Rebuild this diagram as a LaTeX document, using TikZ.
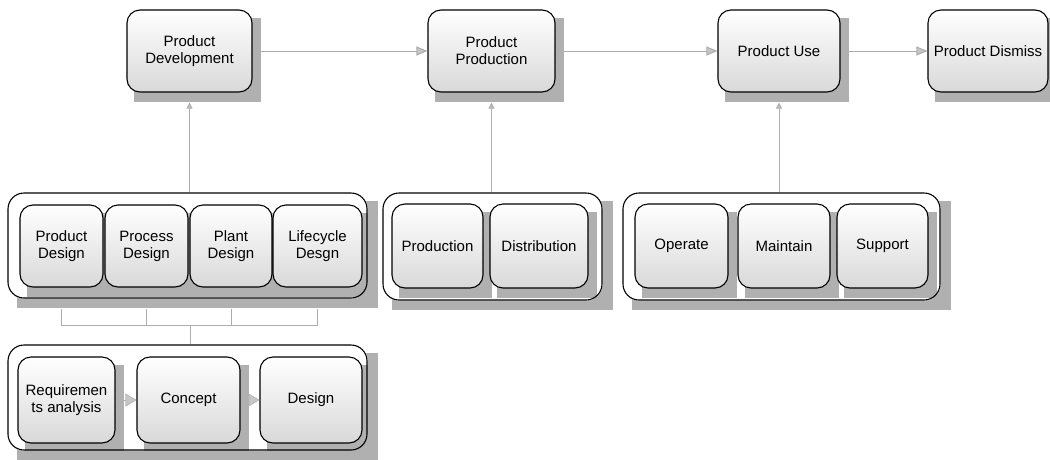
\documentclass[tikz,border=0pt]{standalone}
\usepackage{fontspec}
\setmainfont{Liberation Sans}
\usetikzlibrary{arrows.meta}
\pgfdeclarelayer{ombrecornici}
\pgfdeclarelayer{cornici}
\pgfdeclarelayer{ombre}
\pgfsetlayers{ombrecornici,cornici,ombre,main}

\begin{document}
\begin{tikzpicture}[x=1pt,y=-1pt,
        blocco/.style={draw, line width=1.1pt, rounded corners=13pt, top color=white, bottom color=gray!30, align=center, inner sep=2pt, font=\fontsize{15}{17}\selectfont},
        cornice/.style={draw, line width=1.1pt, rounded corners=16pt, inner sep=0pt},
        ombra/.style={fill=gray!62},
        freccia/.style={draw=gray!65, line width=1pt, -{Triangle[length=11pt,width=9pt,fill=gray!45]}},
        salita/.style={draw=gray!65, line width=1pt, -{Triangle[length=6pt,width=6pt,fill=gray!45]}},
        freccina/.style={draw=gray!60, line width=0.6pt, -{Triangle[length=11pt,width=13pt,fill=gray!45]}},
        linea/.style={draw=gray!65, line width=1pt}]
        \useasboundingbox (0,0) rectangle (1050,459);

        % Fasi del ciclo di vita
        \node[blocco, minimum width=125pt, minimum height=82pt] (svil) at (189.5,51) {Product\\Development};
        \node[blocco, minimum width=127pt, minimum height=82pt] (prod) at (491.5,51) {Product\\Production};
        \node[blocco, minimum width=122pt, minimum height=82pt] (uso) at (779,51) {Product Use};
        \node[blocco, minimum width=120pt, minimum height=82pt] (dism) at (988,51) {Product Dismiss};

        % Cornici dei gruppi
        \node[cornice, minimum width=359pt, minimum height=105pt] (g1) at (187.5,245.5) {};
        \node[cornice, minimum width=359pt, minimum height=105pt] (g2) at (187.5,397.5) {};
        \node[cornice, minimum width=219pt, minimum height=107pt] (g3) at (492.5,246.5) {};
        \node[cornice, minimum width=317pt, minimum height=107pt] (g4) at (781.5,246.5) {};

        % Progettazione
        \node[blocco, minimum width=83pt, minimum height=82pt] (pdes) at (61.5,246) {Product\\Design};
        \node[blocco, minimum width=83pt, minimum height=82pt] (prdes) at (146.5,246) {Process\\Design};
        \node[blocco, minimum width=82pt, minimum height=82pt] (pldes) at (231,246) {Plant\\Design};
        \node[blocco, minimum width=89pt, minimum height=82pt] (lcdes) at (317.5,246) {Lifecycle\\Desgn};

        % Fasi di progetto
        \node[blocco, minimum width=97pt, minimum height=86pt] (req) at (66.5,400) {Requiremen\\ts analysis};
        \node[blocco, minimum width=103pt, minimum height=86pt] (conc) at (188.5,400) {Concept};
        \node[blocco, minimum width=102pt, minimum height=86pt] (des) at (311,400) {Design};

        % Produzione e uso
        \node[blocco, minimum width=91pt, minimum height=84pt] (produz) at (437.5,246) {Production};
        \node[blocco, minimum width=98pt, minimum height=84pt] (distr) at (539,246) {Distribution};
        \node[blocco, minimum width=93pt, minimum height=84pt] (oper) at (681.5,246) {Operate};
        \node[blocco, minimum width=92pt, minimum height=84pt] (mant) at (784,246) {Maintain};
        \node[blocco, minimum width=91pt, minimum height=84pt] (supp) at (882.5,246) {Support};

        % Ombre
        \begin{pgfonlayer}{ombre}
            \foreach \n in {svil,prod,uso,dism,pdes,prdes,pldes,lcdes,req,conc,des,produz,distr,oper,mant,supp}
                \fill[ombra] ([xshift=8pt,yshift=-9pt]\n.south west) rectangle ([xshift=8pt,yshift=-9pt]\n.north east);
        \end{pgfonlayer}
        \begin{pgfonlayer}{cornici}
            \foreach \g in {g1,g2,g3,g4}
                \fill[white, rounded corners=16pt] (\g.south west) rectangle (\g.north east);
        \end{pgfonlayer}
        \begin{pgfonlayer}{ombrecornici}
            \foreach \g in {g1,g2,g3,g4}
                \fill[ombra] ([xshift=10pt,yshift=-9pt]\g.south west) rectangle ([xshift=10pt,yshift=-9pt]\g.north east);
        \end{pgfonlayer}

        % Frecce tra le fasi
        \draw[freccia] ([xshift=8pt]svil.east) -- (prod.west);
        \draw[freccia] ([xshift=8pt]prod.east) -- (uso.west);
        \draw[freccia] ([xshift=8pt]uso.east) -- (dism.west);

        % Collegamenti verso l'alto
        \draw[salita] (svil.south |- g1.north) -- ([yshift=-10pt]svil.south);
        \draw[salita] (prod.south |- g3.north) -- ([yshift=-10pt]prod.south);
        \draw[salita] (uso.south |- g4.north) -- ([yshift=-10pt]uso.south);

        % Raccordo sotto la progettazione
        \coordinate (nodo) at (190,325);
        \foreach \b in {pdes,prdes,pldes,lcdes}
            \draw[linea] ([yshift=-10pt]\b.south |- g1.south) |- (nodo);
        \draw[linea] (nodo) -- (nodo |- g2.north);

        % Sequenza di progetto
        \draw[freccina] ([xshift=8pt]req.east) -- (conc.west);
        \draw[freccina] ([xshift=8pt]conc.east) -- (des.west);
    \end{tikzpicture}
\end{document}
